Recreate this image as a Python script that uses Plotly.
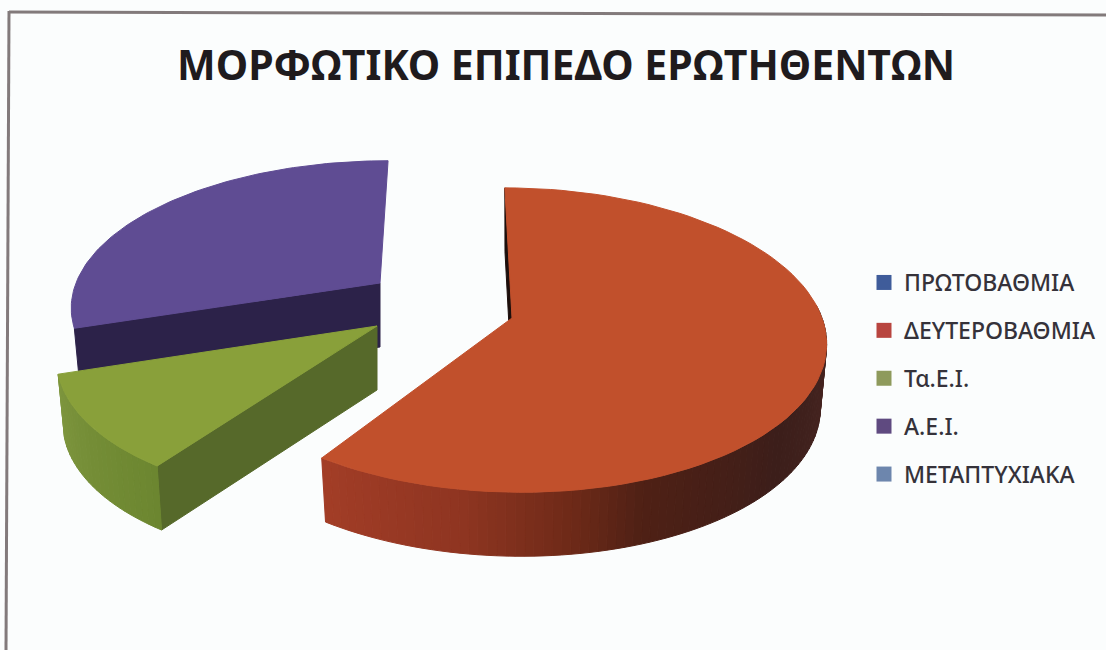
import numpy as np
import plotly.graph_objects as go

categories = ["ΠΡΩΤΟΒΑΘΜΙΑ", "ΔΕΥΤΕΡΟΒΑΘΜΙΑ", "Τα.Ε.Ι.", "Α.Ε.Ι.", "ΜΕΤΑΠΤΥΧΙΑΚΑ"]
shares = [0, 59.5, 10.5, 30, 0]
swatches = ["#3f5c9a", "#b8453f", "#8e9a5c", "#5f4a80", "#6d86ad"]
title_text = "ΜΟΡΦΩΤΙΚΟ ΕΠΙΠΕΔΟ ΕΡΩΤΗΘΕΝΤΩΝ"

# Drawing parameters of each exploded wedge (pixel axes, y pointing down)
wedge_style = {
    1: dict(cx=512, cy=318, A=310, B=149, shear=0.055, top="#c1502c",
            wall=[(90, "#4a2723"), (130, "#3c1e1a"), (160, "#4e2015"),
                  (172, "#6e2a18"), (190, "#8f3521"), (216, "#a43e27")],
            cut="#1d0f0c"),
    2: dict(cx=377, cy=326, A=313.5, B=149, shear=-0.14, top="#89a03a",
            wall=[(214, "#6c8630"), (252, "#7d953d")],
            cut="#56692a"),
    3: dict(cx=380, cy=283, A=304, B=140, shear=-0.066, top="#5f4c93",
            wall=None, cut="#2c2249"),
}
PERSPECTIVE = 0.145
DEPTH = 64
BOTTOM_SCALE = 0.98


def rim(style, deg, lower=False):
    """Screen position of a rim point at a clockwise angle from twelve o'clock."""
    t = np.radians(deg)
    u, v = np.sin(t), -np.cos(t)
    w = 1 - PERSPECTIVE * v
    x, y = style["A"] * u / w, style["B"] * v / w
    x = x + style["shear"] * y
    if lower:
        return style["cx"] + BOTTOM_SCALE * x, style["cy"] + y + DEPTH
    return style["cx"] + x, style["cy"] + y


def apex(style, lower=False):
    return style["cx"], style["cy"] + (DEPTH if lower else 0)


def shade(stops, deg):
    angles = [a for a, _ in stops]
    rgb = np.array([[int(c[i:i + 2], 16) for i in (1, 3, 5)] for _, c in stops])
    mix = [np.interp(deg, angles, rgb[:, k]) for k in range(3)]
    return "rgb({:.0f},{:.0f},{:.0f})".format(*mix)


def facet(fig, pts, color):
    xs = [p[0] for p in pts] + [pts[0][0]]
    ys = [p[1] for p in pts] + [pts[0][1]]
    fig.add_trace(go.Scatter(x=xs, y=ys, mode="lines", fill="toself", fillcolor=color,
                             line=dict(color=color, width=1), hoverinfo="skip",
                             showlegend=False))


fig = go.Figure()

# Cumulative angles turn the shares into wedge spans
ends = np.cumsum(shares) * 3.6
starts = ends - np.array(shares) * 3.6

# Back wedges are painted first so nearer ones overlap them
for idx in (1, 3, 2):
    st = wedge_style[idx]
    a0, a1 = float(starts[idx]), float(ends[idx])
    facet(fig, [apex(st), rim(st, a0), rim(st, a0, True), apex(st, True)], st["cut"])
    if st["wall"]:
        steps = np.arange(max(a0, 85), a1 + 0.01, 1.5)
        steps = np.append(steps[steps < a1], a1)
        for p, q in zip(steps[:-1], steps[1:]):
            facet(fig, [rim(st, p), rim(st, q), rim(st, q, True), rim(st, p, True)],
                  shade(st["wall"], (p + q) / 2))
    sweep = np.linspace(a0, a1, 90)
    facet(fig, [apex(st)] + [rim(st, d) for d in sweep], st["top"])

# Legend entries, one per category, including the empty ones
for name, color in zip(categories, swatches):
    fig.add_trace(go.Scatter(x=[None], y=[None], mode="markers", name=name,
                             legendgroup=name,
                             marker=dict(symbol="square", size=15, color=color)))

fig.update_layout(
    width=1106, height=650, autosize=False,
    margin=dict(l=0, r=0, t=0, b=0),
    paper_bgcolor="#fbfdfd", plot_bgcolor="#fbfdfd",
    xaxis=dict(range=[0, 1106], visible=False, domain=[0, 1]),
    yaxis=dict(range=[650, 0], visible=False, domain=[0, 1]),
    title=dict(text=title_text, x=566 / 1106, xanchor="center", y=1 - 66 / 650, yanchor="middle",
               font=dict(family="Noto Sans", size=41, color="#1f1b1d", weight="bold")),
    legend=dict(x=864 / 1106, xanchor="left", y=1 - 261 / 650, yanchor="top",
                bgcolor="rgba(0,0,0,0)", tracegroupgap=15, itemwidth=30,
                font=dict(family="Noto Sans", size=23, color="#35323a", weight=500)),
    shapes=[
        dict(type="line", xref="paper", yref="paper", x0=9 / 1106, x1=1, y0=1 - 12 / 650, y1=1 - 15 / 650,
             line=dict(color="#827a7b", width=3)),
        dict(type="line", xref="paper", yref="paper", x0=9 / 1106, x1=6 / 1106, y0=1 - 11 / 650, y1=0,
             line=dict(color="#827a7b", width=3)),
    ],
)

fig.write_html("out.html")
